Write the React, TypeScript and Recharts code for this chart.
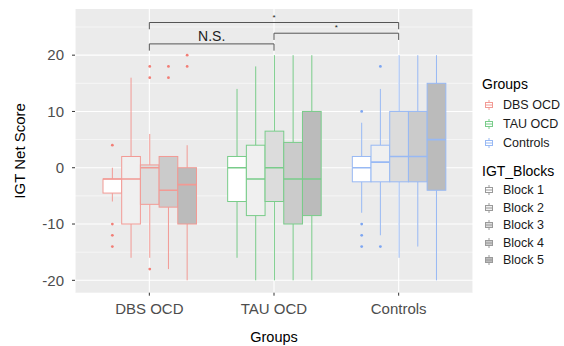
import { BarChart, Bar, XAxis, YAxis, CartesianGrid, ReferenceLine } from 'recharts';

const groups = ['DBS OCD', 'TAU OCD', 'Controls'];
const blocks = ['Block 1', 'Block 2', 'Block 3', 'Block 4', 'Block 5'];

// one row per group, one value per block
const whiskerLow = [
  [-6, -16, -16, -18, -20],
  [-16, -20, -20, -20, -20],
  [-8, -12, -16, -14, -20],
];
const lowerQuartile = [
  [-4.5, -10, -6.5, -7, -10],
  [-6, -8.5, -6, -10, -8.5],
  [-2.5, -2.5, -2.5, -2.5, -4],
];
const medians = [
  [-2, -2, 0, -4, -3],
  [0, -2, 0, -2, -2],
  [0, 1, 2, 2, 5],
];
const upperQuartile = [
  [-2, 2, 0.5, 2, 0],
  [2, 4, 6.5, 4.5, 10],
  [2, 4, 10, 10, 15],
];
const whiskerHigh = [
  [0, 16, 6, 2, 4],
  [14, 18, 20, 20, 20],
  [8, 14, 20, 20, 20],
];
const outliers = [
  [[4, -10, -12, -14], [], [18, 16, -18], [18, 16], [20, 18]],
  [[], [], [], [], []],
  [[10, -10, -12, -14], [18, -14], [], [], []],
];

const yTicks = [-20, -10, 0, 10, 20];
const yMinor = [-15, -5, 5, 15, 25];

const brackets = [
  { from: 'DBS OCD', to: 'Controls', y: 25.8, label: '*' },
  { from: 'TAU OCD', to: 'Controls', y: 23.9, label: '*' },
  { from: 'DBS OCD', to: 'TAU OCD', y: 22.0, label: 'N.S.' },
];
const tipLength = 1.2;

const groupLine = ['#F29A94', '#79CC8A', '#98B9F4'];
const groupDot = ['#F27E76', '#4CBF66', '#7DA6F2'];
const blockFill = ['#FFFFFF', '#F0F0F0', '#DCDCDC', '#CBCBCB', '#BBBBBB'];

const FONT = '"Liberation Sans", Arial, sans-serif';

const rows = groups.map((group, i) => {
  const row: any = { group, idx: i };
  blocks.forEach((_, b) => {
    row[`b${b}`] = [lowerQuartile[i][b], upperQuartile[i][b]];
  });
  return row;
});

function makeBoxShape(b: number) {
  return (props: any) => {
    const { x, y, width, height } = props;
    const g = props.payload?.idx ?? props.index;
    const lo = lowerQuartile[g][b];
    const hi = upperQuartile[g][b];
    const top = Math.min(y, y + height);
    const h = Math.abs(height);
    const ppu = h / (hi - lo);
    const py = (v: number) => top + (hi - v) * ppu;
    const cx = x + width / 2;
    const color = groupLine[g];
    return (
      <g>
        <line x1={cx} x2={cx} y1={py(hi)} y2={py(whiskerHigh[g][b])} stroke={color} strokeWidth={1} />
        <line x1={cx} x2={cx} y1={py(lo)} y2={py(whiskerLow[g][b])} stroke={color} strokeWidth={1} />
        <rect x={x} y={top} width={width} height={h} fill={blockFill[b]} stroke={color} strokeWidth={1} />
        <line x1={x} x2={x + width} y1={py(medians[g][b])} y2={py(medians[g][b])} stroke={color} strokeWidth={1.6} />
        {outliers[g][b].map((v, k) => (
          <circle key={k} cx={cx} cy={py(v)} r={1.4} fill={groupDot[g]} />
        ))}
      </g>
    );
  };
}

function KeyIcon({ stroke, fill }: { stroke: string; fill: string }) {
  return (
    <svg width={10} height={12} style={{ display: 'block' }}>
      <line x1={5} x2={5} y1={1} y2={11} stroke={stroke} strokeWidth={1} />
      <rect x={1.5} y={3.5} width={7} height={5} fill={fill} stroke={stroke} strokeWidth={1} />
      <line x1={1.5} x2={8.5} y1={6} y2={6} stroke={stroke} strokeWidth={1} />
    </svg>
  );
}

function LegendRow({ top, label, stroke, fill }: any) {
  return (
    <div style={{ position: 'absolute', left: 484, top: top - 6, height: 12, display: 'flex', alignItems: 'center' }}>
      <KeyIcon stroke={stroke} fill={fill} />
      <span style={{ marginLeft: 9, fontSize: 12.5, lineHeight: '12px', color: '#1a1a1a' }}>{label}</span>
    </div>
  );
}

function ChartLegend() {
  const groupY = [105, 124, 143];
  const blockY = [190, 207.6, 225.2, 242.8, 260.4];
  return (
    <div style={{ fontFamily: FONT }}>
      <div style={{ position: 'absolute', left: 482, top: 76, fontSize: 14, color: '#000' }}>Groups</div>
      {groups.map((g, i) => (
        <LegendRow key={g} top={groupY[i]} label={g} stroke={groupLine[i]} fill="#FFFFFF" />
      ))}
      <div style={{ position: 'absolute', left: 482, top: 163, fontSize: 14, color: '#000' }}>IGT_Blocks</div>
      {blocks.map((bl, i) => (
        <LegendRow key={bl} top={blockY[i]} label={bl} stroke="#9A9A9A" fill={blockFill[i]} />
      ))}
    </div>
  );
}

export default function App() {
  return (
    <div style={{ position: 'absolute', left: 0, top: 0, width: 564, height: 346, background: '#fff', fontFamily: FONT }}>
      <BarChart
        width={564}
        height={346}
        data={rows}
        margin={{ top: 9, right: 91, bottom: 0, left: 0 }}
        barGap={0}
        barSize={18.7}
      >
        <CartesianGrid
          fill="#EBEBEB"
          stroke="#FFFFFF"
          strokeWidth={0.55}
          vertical={false}
          horizontalValues={yMinor}
        />
        <CartesianGrid stroke="#FFFFFF" strokeWidth={1.1} horizontalValues={yTicks} />
        <XAxis
          dataKey="group"
          type="category"
          padding={{ left: 12, right: 12 }}
          height={53.3}
          axisLine={false}
          tickLine={{ stroke: '#333333' }}
          tickSize={3}
          tickMargin={8}
          tick={{ fill: '#4D4D4D', fontSize: 15, fontFamily: FONT }}
          label={{ value: 'Groups', position: 'insideBottom', offset: 4, fill: '#000', fontSize: 14.5, fontFamily: FONT }}
        />
        <YAxis
          type="number"
          domain={[-22.2, 28.2]}
          ticks={yTicks}
          allowDataOverflow
          width={75}
          axisLine={false}
          tickLine={{ stroke: '#333333' }}
          tickSize={3}
          tickMargin={8}
          tick={{ fill: '#4D4D4D', fontSize: 15, fontFamily: FONT }}
          label={{
            value: 'IGT Net Score',
            angle: -90,
            position: 'insideLeft',
            offset: 20,
            fill: '#000',
            fontSize: 15,
            fontFamily: FONT,
            style: { textAnchor: 'middle' },
          }}
        />
        {blocks.map((bl, b) => (
          <Bar
            key={bl}
            dataKey={`b${b}`}
            name={bl}
            barSize={18.7}
            shape={makeBoxShape(b)}
            isAnimationActive={false}
          />
        ))}
        {brackets.map((br, i) => (
          <ReferenceLine
            key={`h${i}`}
            segment={[{ x: br.from, y: br.y }, { x: br.to, y: br.y }]}
            stroke="#555555"
            strokeWidth={1}
            ifOverflow="visible"
            label={{
              value: br.label,
              position: 'top',
              offset: br.label === '*' ? 3 : 2.5,
              fill: '#222',
              fontSize: br.label === '*' ? 8 : 14,
              fontFamily: FONT,
            }}
          />
        ))}
        {brackets.flatMap((br, i) =>
          [br.from, br.to].map((x, k) => (
            <ReferenceLine
              key={`t${i}-${k}`}
              segment={[{ x, y: br.y }, { x, y: br.y - tipLength }]}
              stroke="#555555"
              strokeWidth={1}
              ifOverflow="visible"
            />
          ))
        )}
      </BarChart>
      <ChartLegend />
    </div>
  );
}
